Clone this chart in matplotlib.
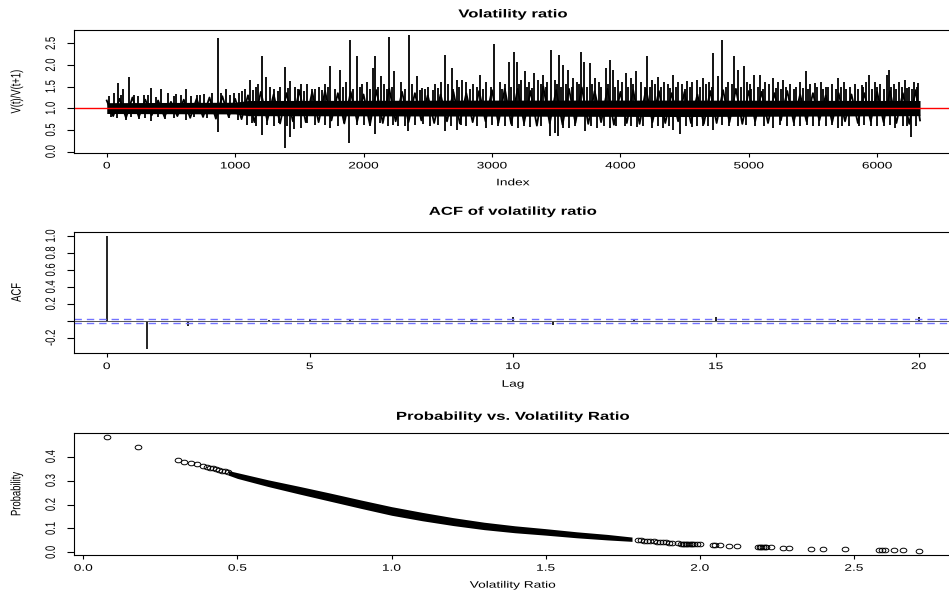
import numpy as np
import matplotlib.pyplot as plt
import matplotlib.patheffects as pe
from matplotlib.path import Path
from matplotlib.text import Text
from matplotlib.transforms import Affine2D

plt.rcParams['font.family'] = ['Liberation Sans', 'DejaVu Sans']

# volatility ratio V(t)/V(t+1): upper teeth of the band every 100 steps
ratio_hi = [1.18, 1.22, 1.25, 1.20, 1.18, 1.15, 1.20, 1.22, 1.25, 1.28, 1.22,
            1.30, 1.38, 1.32, 1.35, 1.42, 1.38,
            1.40, 1.35, 1.38, 1.32, 1.42, 1.45, 1.38, 1.35, 1.30, 1.32, 1.38, 1.35, 1.40, 1.42, 1.45,
            1.45, 1.40, 1.50, 1.42, 1.45, 1.48, 1.40, 1.45, 1.38, 1.42, 1.45, 1.40, 1.35, 1.38, 1.32, 1.40,
            1.42, 1.45, 1.40, 1.38, 1.35, 1.40, 1.32, 1.35, 1.30, 1.35, 1.32, 1.35, 1.38, 1.40, 1.35, 1.42]
# lower teeth, halfway between
ratio_lo = [0.82, 0.78, 0.80, 0.84, 0.80, 0.82, 0.78, 0.80, 0.76, 0.80,
            0.75, 0.68, 0.72, 0.65, 0.70, 0.68,
            0.68, 0.72, 0.65, 0.70, 0.62, 0.66, 0.70, 0.68, 0.72, 0.66, 0.70, 0.65, 0.68, 0.70, 0.66,
            0.64, 0.66, 0.60, 0.65, 0.62, 0.66, 0.64, 0.68, 0.62, 0.66, 0.64, 0.68, 0.66, 0.70, 0.66, 0.64,
            0.66, 0.68, 0.64, 0.70, 0.66, 0.72, 0.68, 0.70, 0.72, 0.68, 0.70, 0.66, 0.70, 0.68, 0.66, 0.64,
            0.72]
n_obs = 6334

# solid part of the band
core_idx = [0, 1000, 1100, 3000, 4500, 6334]
core_hi = [1.13, 1.14, 1.18, 1.19, 1.19, 1.18]
core_lo = [0.88, 0.87, 0.83, 0.82, 0.81, 0.83]

# tall spikes above 1
spike_up_idx = [90, 130, 174, 345, 423, 617, 869, 930, 1112, 1206, 1242, 1388, 1430, 1510,
                1739, 1814, 1894, 1946, 2076, 2090, 2136, 2198, 2240, 2354, 2414, 2453, 2634,
                2686, 2725, 2764, 2907, 3016, 3133, 3172, 3193, 3258, 3328, 3401, 3460, 3523,
                3556, 3595, 3691, 3717, 3764, 3886, 3920, 3946, 4044, 4122, 4211, 4296, 4408,
                4517, 4647, 4725, 4764, 4790, 4888, 4915, 4966, 5044, 5088, 5192, 5270, 5444,
                5517, 5698, 5880, 5940, 6075, 6093, 6218, 6321,
                60, 210, 290, 480, 540, 700, 760, 820, 990, 1050, 1160, 1300, 1350, 1470, 1560,
                1600, 1650, 1700, 1860, 1990, 2030, 2160, 2290, 2380, 2500, 2560, 2600, 2660,
                2800, 2850, 2950, 3060, 3100, 3230, 3290, 3360, 3430, 3490, 3630, 3660, 3800,
                3830, 3980, 4010, 4080, 4160, 4250, 4340, 4370, 4450, 4480, 4560, 4600, 4690,
                4840, 4990, 5010, 5130, 5160, 5230, 5320, 5370, 5400, 5480, 5560, 5600, 5650,
                5740, 5790, 5830, 5910, 5980, 6020, 6130, 6170, 6250, 6290]
spike_up_val = [1.58, 1.44, 1.72, 1.48, 1.44, 1.44, 2.62, 1.44, 1.66, 2.20, 1.72, 1.95, 1.64, 1.55,
                1.97, 1.89, 2.58, 2.20, 1.93, 2.20, 1.74, 2.64, 1.85, 2.70, 1.74, 1.46, 2.24,
                1.93, 1.66, 1.66, 1.78, 2.49, 2.08, 2.30, 2.08, 1.85, 1.81, 1.78, 2.35, 2.24,
                2.00, 1.89, 2.29, 2.08, 2.04, 1.94, 2.12, 1.89, 1.81, 1.85, 2.21, 1.72, 1.78,
                1.62, 1.70, 2.27, 1.74, 2.58, 2.20, 1.89, 1.97, 1.78, 1.78, 1.70, 1.66, 1.85,
                1.58, 1.70, 1.54, 1.78, 1.78, 1.89, 1.66, 1.58,
                1.35, 1.30, 1.30, 1.35, 1.32, 1.30, 1.32, 1.35, 1.35, 1.40, 1.50, 1.45, 1.50, 1.50, 1.55,
                1.45, 1.50, 1.55, 1.60, 1.55, 1.60, 1.55, 1.60, 1.55, 1.50, 1.55, 1.60, 1.55,
                1.60, 1.55, 1.60, 1.60, 1.55, 1.65, 1.60, 1.65, 1.60, 1.65, 1.70, 1.60, 1.70,
                1.60, 1.65, 1.60, 1.70, 1.60, 1.65, 1.60, 1.55, 1.60, 1.55, 1.60, 1.65, 1.60,
                1.60, 1.60, 1.55, 1.60, 1.55, 1.60, 1.55, 1.50, 1.60, 1.55, 1.60, 1.50, 1.55,
                1.60, 1.50, 1.55, 1.60, 1.60, 1.55, 1.55, 1.60, 1.50, 1.60]
# short spikes along the top edge of the band
fringe_up_idx = [20, 110, 240, 320, 380, 520, 580, 660, 730, 890, 960, 1030, 1080, 1140, 1180,
                 1270, 1330, 1410, 1490, 1540, 1620, 1680, 1720, 1780, 1840, 1920, 1970, 2050,
                 2110, 2180, 2220, 2320, 2440, 2480, 2540, 2580, 2700, 2740, 2830, 2880, 2930,
                 2990, 3080, 3150, 3210, 3270, 3310, 3380, 3420, 3510, 3540, 3580, 3620, 3680,
                 3740, 3780, 3850, 3900, 3960, 4060, 4100, 4190, 4230, 4270, 4320, 4390, 4430,
                 4500, 4540, 4620, 4670, 4710, 4820, 4870, 4940, 5020, 5070, 5110, 5210, 5250,
                 5290, 5350, 5420, 5460, 5530, 5580, 5620, 5680, 5720, 5760, 5850, 5890, 5960,
                 6000, 6050, 6110, 6150, 6190, 6230, 6270, 6310]
fringe_up_val = [1.28, 1.30, 1.28, 1.30, 1.25, 1.28, 1.30, 1.28, 1.30, 1.35, 1.30, 1.35, 1.45, 1.42, 1.55,
                 1.50, 1.40, 1.48, 1.45, 1.40, 1.45, 1.42, 1.50, 1.45, 1.50, 1.45, 1.50, 1.45,
                 1.50, 1.45, 1.50, 1.45, 1.42, 1.45, 1.42, 1.48, 1.45, 1.50, 1.45, 1.50, 1.45,
                 1.50, 1.45, 1.50, 1.55, 1.50, 1.48, 1.55, 1.50, 1.55, 1.50, 1.55, 1.50, 1.55,
                 1.50, 1.55, 1.50, 1.55, 1.50, 1.50, 1.55, 1.50, 1.50, 1.55, 1.50, 1.48, 1.50,
                 1.45, 1.50, 1.50, 1.55, 1.50, 1.50, 1.55, 1.50, 1.45, 1.50, 1.45, 1.48, 1.45,
                 1.50, 1.45, 1.48, 1.45, 1.50, 1.45, 1.50, 1.45, 1.50, 1.45, 1.45, 1.50, 1.45,
                 1.50, 1.45, 1.50, 1.45, 1.50, 1.48, 1.45, 1.50]
# spikes below 1
spike_dn_idx = [869, 1206, 1388, 1430, 1455, 1510, 1090, 345, 617, 780, 150, 250, 450, 1160, 1300,
                1739, 1800, 1887, 2000, 2089, 2193, 2270, 2349, 2400, 2520, 2634, 2725, 2800,
                2950, 3050, 3200, 3300, 3453, 3490, 3517, 3600, 3725, 3820, 3920, 4036, 4130,
                4244, 4330, 4413, 4465, 4560, 4640, 4725, 4790, 4920, 5050, 5192, 5300, 5400,
                5500, 5600, 5698, 5780, 5855, 5950, 6050, 6140, 6200, 6264, 6300,
                30, 80, 190, 300, 400, 520, 680, 850, 950, 1020, 1130, 1250, 1340, 1400, 1560,
                1620, 1700, 1850, 1950, 2050, 2130, 2230, 2320, 2460, 2580, 2680, 2760, 2880,
                3000, 3100, 3160, 3250, 3380, 3550, 3650, 3770, 3870, 3970, 4080, 4180, 4290,
                4380, 4510, 4600, 4680, 4850, 4980, 5120, 5240, 5350, 5450, 5550, 5650, 5730,
                5900, 6000, 6100, 6230]
spike_dn_val = [0.45, 0.39, 0.09, 0.33, 0.52, 0.55, 0.62, 0.70, 0.74, 0.78, 0.74, 0.76, 0.75, 0.58, 0.60,
                0.54, 0.60, 0.20, 0.62, 0.41, 0.58, 0.60, 0.47, 0.62, 0.60, 0.47, 0.50, 0.60,
                0.54, 0.58, 0.55, 0.56, 0.37, 0.43, 0.36, 0.55, 0.47, 0.55, 0.54, 0.58, 0.56,
                0.54, 0.55, 0.50, 0.41, 0.56, 0.58, 0.50, 0.62, 0.60, 0.60, 0.55, 0.60, 0.58,
                0.60, 0.58, 0.54, 0.60, 0.58, 0.60, 0.58, 0.54, 0.60, 0.33, 0.58,
                0.80, 0.78, 0.80, 0.78, 0.80, 0.78, 0.80, 0.78, 0.77, 0.72, 0.65, 0.62, 0.65, 0.60, 0.65,
                0.62, 0.62, 0.65, 0.62, 0.60, 0.65, 0.62, 0.60, 0.64, 0.62, 0.60, 0.62, 0.60,
                0.62, 0.60, 0.58, 0.60, 0.58, 0.55, 0.58, 0.58, 0.60, 0.58, 0.60, 0.58, 0.60,
                0.58, 0.60, 0.60, 0.58, 0.60, 0.62, 0.60, 0.62, 0.60, 0.62, 0.60, 0.62, 0.60,
                0.62, 0.60, 0.62, 0.60]

# autocorrelation of the ratio
acf_lag = list(range(21))
acf_val = [1.0, -0.33, -0.065, -0.01, 0.005, 0.02, 0.005, 0.002, -0.01, 0.005, 0.045,
           -0.05, -0.005, 0.01, -0.01, 0.04, -0.01, -0.005, 0.005, -0.01, 0.04]
acf_ci = 0.0251

# probability against ratio: the dense stretch as upper / lower edge
band_x = [0.47, 0.50, 0.60, 0.70, 0.80, 0.90, 1.00, 1.10, 1.20, 1.30, 1.40, 1.50, 1.60, 1.70, 1.78]
band_hi = [0.342, 0.333, 0.303, 0.276, 0.248, 0.219, 0.191, 0.167, 0.145, 0.126, 0.111, 0.099, 0.086, 0.075, 0.064]
band_lo = [0.323, 0.309, 0.275, 0.244, 0.214, 0.184, 0.155, 0.132, 0.112, 0.095, 0.082, 0.072, 0.061, 0.052, 0.046]
# single points at both ends
pts_x = [0.076, 0.178, 0.308, 0.328, 0.348, 0.370, 0.389, 0.40, 0.41, 0.42, 0.43, 0.44, 0.45, 0.46, 0.47,
         1.80, 1.81, 1.82, 1.83, 1.84, 1.85, 1.86, 1.87, 1.88, 1.89, 1.90, 1.91, 1.93, 1.94, 1.945,
         1.95, 1.955, 1.96, 1.965, 1.97, 1.975, 1.98, 1.99, 2.00, 2.043, 2.05, 2.065, 2.095, 2.12,
         2.19, 2.195, 2.20, 2.205, 2.21, 2.215, 2.23, 2.27, 2.29, 2.36, 2.40, 2.47,
         2.58, 2.59, 2.60, 2.63, 2.66, 2.71]
pts_y = [0.481, 0.439, 0.387, 0.379, 0.374, 0.368, 0.361, 0.357, 0.354, 0.351, 0.348, 0.344, 0.341, 0.338, 0.334,
         0.051, 0.050, 0.049, 0.048, 0.047, 0.046, 0.045, 0.044, 0.043, 0.042, 0.041, 0.040, 0.038, 0.037, 0.037,
         0.036, 0.036, 0.036, 0.035, 0.035, 0.035, 0.034, 0.034, 0.033, 0.031, 0.031, 0.030, 0.028, 0.027,
         0.023, 0.023, 0.023, 0.022, 0.022, 0.022, 0.021, 0.020, 0.019, 0.016, 0.015, 0.013,
         0.011, 0.011, 0.010, 0.010, 0.009, 0.007]


class Widen(pe.AbstractPathEffect):
    """Stretch glyphs sideways about their own centre."""

    def __init__(self, sx):
        super().__init__()
        self.sx = sx

    def draw_path(self, renderer, gc, tpath, affine, rgbFace=None):
        if len(tpath.vertices) == 0:
            return
        box = tpath.get_extents(affine)
        cx = 0.5 * (box.x0 + box.x1)
        wide = Affine2D().translate(-cx, 0).scale(self.sx, 1).translate(cx, 0)
        renderer.draw_path(gc, tpath, affine + wide, rgbFace)


W, H = 949, 599
STRETCH = 1.45
FS = 6.8


def box(left, top, right, bottom):
    return [left / W, 1 - bottom / H, (right - left) / W, (bottom - top) / H]


def style_axes(ax, ytick_len=5.0):
    for s in ax.spines.values():
        s.set_linewidth(0.8)
        s.set_color('black')
    ax.tick_params(axis='x', length=3.1, width=0.8, pad=3.2, labelsize=FS)
    ax.tick_params(axis='y', length=ytick_len, width=0.8, pad=8.4, labelsize=FS)
    for lab in ax.get_yticklabels():
        lab.set_rotation(90)
        lab.set_va('center')


fig = plt.figure(figsize=(W / 100, H / 100), dpi=100)

# --- time series ---
ax1 = fig.add_axes(box(74, 30, 952, 152.7))
zig_idx = np.empty(len(ratio_hi) + len(ratio_lo))
zig_val = np.empty_like(zig_idx)
zig_idx[0::2] = np.arange(len(ratio_hi)) * 100
zig_idx[1::2] = np.minimum(np.arange(len(ratio_lo)) * 100 + 50, n_obs)
zig_val[0::2] = ratio_hi
zig_val[1::2] = ratio_lo
ax1.fill_between(core_idx, core_lo, core_hi, color='black', lw=0)
ax1.plot(zig_idx, zig_val, color='black', lw=1.3)
ax1.vlines(spike_up_idx, 1.0, spike_up_val, color='black', lw=1.3)
ax1.vlines(fringe_up_idx, 1.0, fringe_up_val, color='black', lw=1.3)
ax1.vlines(spike_dn_idx, spike_dn_val, 1.0, color='black', lw=1.3)
ax1.axhline(1.0, color='red', lw=1.0)
ax1.set_xlim(-255, 6583)
ax1.set_ylim(-0.025, 2.808)
ax1.set_xticks(range(0, 6001, 1000))
ax1.set_yticks([0, 0.5, 1.0, 1.5, 2.0, 2.5])
ax1.set_yticklabels(['0.0', '0.5', '1.0', '1.5', '2.0', '2.5'])
style_axes(ax1)

# --- ACF ---
ax2 = fig.add_axes(box(74, 231.5, 952, 353.3))
ax2.vlines(acf_lag, 0, acf_val, color='black', lw=1.2)
ax2.axhline(0, color='#555555', lw=0.7)
for c in (acf_ci, -acf_ci):
    ax2.axhline(c, color='#7373ff', lw=1.0, dashes=(5.3, 3.6))
ax2.set_xlim(-0.805, 20.82)
ax2.set_ylim(-0.383, 1.053)
ax2.set_xticks([0, 5, 10, 15, 20])
ax2.set_yticks([-0.2, 0.0, 0.2, 0.4, 0.6, 0.8, 1.0])
ax2.set_yticklabels(['-0.2', '', '0.2', '0.4', '0.6', '0.8', '1.0'])
style_axes(ax2)

# --- probability vs ratio ---
ax3 = fig.add_axes(box(74, 432.7, 952, 555))
ring = Path.unit_circle().transformed(Affine2D().scale(STRETCH, 1))
ax3.fill_between(band_x, band_lo, band_hi, color='black', lw=0)
ax3.plot(pts_x, pts_y, ls='none', marker=ring, ms=4.8, mfc='none', mec='black', mew=0.7)
ax3.set_xlim(-0.030, 2.818)
ax3.set_ylim(-0.011, 0.500)
ax3.set_xticks([0, 0.5, 1.0, 1.5, 2.0, 2.5])
ax3.set_xticklabels(['0.0', '0.5', '1.0', '1.5', '2.0', '2.5'])
ax3.set_yticks([0, 0.1, 0.2, 0.3, 0.4])
ax3.set_yticklabels(['0.0', '0.1', '0.2', '0.3', '0.4'])
style_axes(ax3)

# titles and axis labels
cx = 513 / W
for txt, base in [('Volatility ratio', 17.4), ('ACF of volatility ratio', 214.8),
                  ('Probability vs. Volatility Ratio', 419.8)]:
    fig.text(cx, 1 - base / H, txt, ha='center', va='baseline', fontsize=8.3, fontweight='bold')
for txt, base in [('Index', 185.3), ('Lag', 386.7), ('Volatility Ratio', 587.7)]:
    fig.text(cx, 1 - base / H, txt, ha='center', va='baseline', fontsize=FS)
for txt, mid in [('V(t)/V(t+1)', 91.3), ('ACF', 292.4), ('Probability', 493.9)]:
    fig.text(16.7 / W, 1 - mid / H, txt, ha='center', va='center', rotation=90, fontsize=FS)

fig.canvas.draw()
for t in fig.findobj(Text):
    t.set_path_effects([Widen(STRETCH)])

fig.savefig('out.png', dpi=100)
